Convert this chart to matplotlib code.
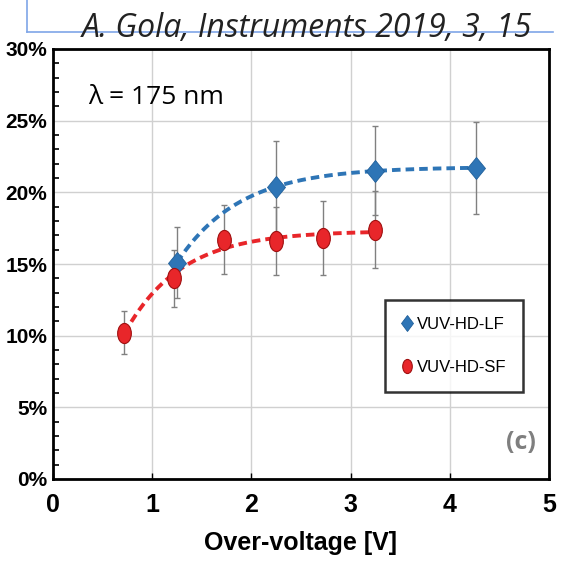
import numpy as np
import matplotlib
matplotlib.use("Agg")
from matplotlib import pyplot as plt
from matplotlib.markers import MarkerStyle
from matplotlib.transforms import Affine2D
from matplotlib.ticker import MultipleLocator, FuncFormatter

# data (PDE in %)
lf_x = [1.25, 2.25, 3.25, 4.26]
lf_y = [15.1, 20.4, 21.5, 21.7]
lf_err = [2.5, 3.2, 3.1, 3.2]

sf_x = [0.72, 1.22, 1.72, 2.25, 2.72, 3.25]
sf_y = [10.2, 14.0, 16.7, 16.6, 16.8, 17.4]
sf_err = [1.5, 2.0, 2.4, 2.4, 2.6, 2.7]

BLUE = "#2e75b6"
RED = "#e8262a"
SANS = ["Liberation Sans", "DejaVu Sans"]


def sat_fit(x, y):
    # y = a + b*exp(-x/tau), tau by grid search, a,b by least squares
    x = np.asarray(x); y = np.asarray(y)
    best = None
    for tau in np.linspace(0.2, 3.0, 281):
        A = np.column_stack([np.ones_like(x), np.exp(-x / tau)])
        coef, *_ = np.linalg.lstsq(A, y, rcond=None)
        r = np.sum((A @ coef - y) ** 2)
        if best is None or r < best[0]:
            best = (r, tau, coef)
    _, tau, (a, b) = best
    xx = np.linspace(x.min(), x.max(), 200)
    return xx, a + b * np.exp(-xx / tau)


fig = plt.figure(figsize=(5.61, 5.75), dpi=100)
ax = fig.add_axes([53 / 561, 1 - 479 / 575, 496 / 561, 430 / 575])

xx, yy = sat_fit(lf_x, lf_y)
ax.plot(xx, yy, "--", color=BLUE, lw=2.8, dashes=(2.2, 1.3), zorder=3)
xx, yy = sat_fit(sf_x, sf_y)
ax.plot(xx, yy, "--", color=RED, lw=2.8, dashes=(2.2, 1.3), zorder=3)

ax.errorbar(lf_x, lf_y, yerr=lf_err, fmt="none", ecolor="#808080", elinewidth=1.0,
            capsize=2.5, capthick=1.0, zorder=2)
ax.errorbar(sf_x, sf_y, yerr=sf_err, fmt="none", ecolor="#808080", elinewidth=1.0,
            capsize=2.5, capthick=1.0, zorder=2)

diam = MarkerStyle("D", transform=Affine2D().scale(0.8, 1.0))
ax.plot(lf_x, lf_y, ls="none", marker=diam, ms=11, color=BLUE, mec="#1f5f9a", mew=0.6,
        zorder=4, label="VUV-HD-LF")
oval = MarkerStyle("o", transform=Affine2D().scale(0.68, 1.0))
ax.plot(sf_x, sf_y, ls="none", marker=oval, ms=14.5, color=RED, mec="#a01010", mew=0.8,
        zorder=4, label="VUV-HD-SF")

ax.set_xlim(0, 5)
ax.set_ylim(0, 30)
ax.xaxis.set_major_locator(MultipleLocator(1))
ax.yaxis.set_major_locator(MultipleLocator(5))
ax.yaxis.set_minor_locator(MultipleLocator(1))
ax.yaxis.set_major_formatter(FuncFormatter(lambda v, p: "%d%%" % v))
ax.grid(True, which="major", color="#d0d0d0", lw=1.0)
ax.set_axisbelow(True)
ax.tick_params(axis="x", direction="in", length=4, width=1, pad=10)
ax.tick_params(axis="y", which="major", direction="in", length=0, pad=4)
ax.tick_params(axis="y", which="minor", direction="in", length=4, width=1.2)
for s in ax.spines.values():
    s.set_linewidth(2)
for lab in ax.get_xticklabels():
    lab.set_family(SANS)
    lab.set_fontweight("bold")
    lab.set_fontsize(18)
for lab in ax.get_yticklabels():
    lab.set_family(SANS)
    lab.set_fontweight("bold")
    lab.set_fontsize(15)

ax.set_xlabel("Over-voltage [V]", family=SANS, fontweight="bold", fontsize=18, labelpad=10)

ax.text(0.07, 0.888, "λ = 175 nm", transform=ax.transAxes, fontsize=19,
        family=["Open Sans", "DejaVu Sans"], va="center")
ax.text(0.974, 0.086, "(c)", transform=ax.transAxes, fontsize=18, color="#7f7f7f",
        fontweight="bold", family=["Open Sans", "DejaVu Sans"], ha="right", va="center")

leg = ax.legend(loc="upper left", bbox_to_anchor=(0.653, 0.435), frameon=True,
                fancybox=False, edgecolor="black", handlelength=0.6, handletextpad=0.3,
                labelspacing=1.7, borderpad=1.0, markerscale=0.7,
                prop={"family": SANS, "size": 12})
leg.get_frame().set_linewidth(1.8)

# citation line and text at the top
fig.add_artist(plt.Line2D([27 / 561, 27 / 561], [1.0, 1 - 32 / 575], color="#7fa6e8",
                          lw=1.2, transform=fig.transFigure))
fig.add_artist(plt.Line2D([27 / 561, 553 / 561], [1 - 32 / 575, 1 - 32 / 575], color="#7fa6e8",
                          lw=1.2, transform=fig.transFigure))
fig.text(82 / 561, 1 - 37 / 575, "A. Gola, Instruments 2019, 3, 15", fontsize=23,
         style="italic", family=["Open Sans", "DejaVu Sans"], va="baseline", color="#222222")

fig.savefig("out.png", dpi=100)
